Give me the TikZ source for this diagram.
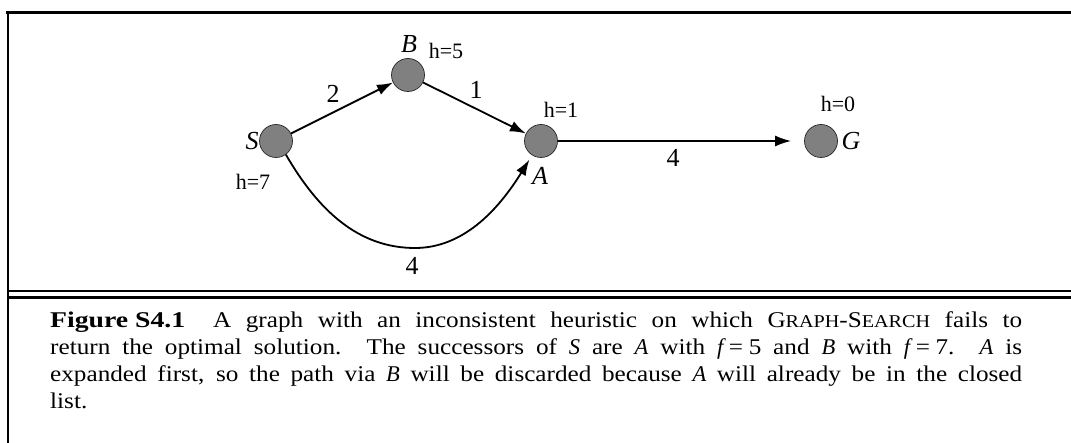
\documentclass[tikz,border=0pt]{standalone}
\usepackage{fontspec}
\setmainfont{Liberation Serif}
\newfontfamily\capfont[FakeStretch=1.12]{Liberation Serif}
\newcommand\mvar[1]{{\rmfamily\itshape #1}}
\usetikzlibrary{arrows.meta}
\begin{document}
\begin{tikzpicture}[x=1pt,y=-1pt,
  state/.style={circle,draw=black!85,line width=0.7pt,fill=black!50,minimum size=33pt,inner sep=0pt},
  lbl/.style={font=\fontsize{26}{30}\selectfont\itshape,inner sep=0pt},
  hl/.style={font=\fontsize{22}{26}\selectfont,inner sep=0pt},
  wt/.style={font=\fontsize{26}{30}\selectfont,inner sep=0pt},
  edgearrow/.style={line width=1.8pt,-{Latex[length=16pt,width=11pt]}},
  framebar/.style={line width=2.6pt}]
\useasboundingbox (0,0) rectangle (1071,443);
% frame
\draw[framebar] (6.3,12.5) -- (1071,12.5);
\draw[line width=2pt] (7.5,11.2) -- (7.5,443);
\draw[framebar] (7.5,291) -- (1071,291);
\draw[framebar] (7.5,297.5) -- (1071,297.5);
% nodes
\node[state] (S) at (276,141) {};
\node[state] (B) at (408,75) {};
\node[state] (A) at (541,141) {};
\node[state] (G) at (821,141) {};
% node labels
\node[lbl] (lS) at (252,141) {S};
\node[lbl] (lB) at (409,44) {B};
\node[lbl] (lA) at (540,176) {A};
\node[lbl] (lG) at (851,141) {G};
\node[hl] (hS) at (253,182) {h=7};
\node[hl] (hB) at (446,51) {h=5};
\node[hl] (hA) at (561,110) {h=1};
\node[hl] (hG) at (838,104) {h=0};
% edges
\draw[edgearrow] (S) -- (B);
\draw[edgearrow] (B) -- (A);
\draw[edgearrow,shorten >=13pt] (A) -- (G);
\draw[edgearrow,shorten >=5pt] (S.-54) .. controls (318,210) and (358,248) .. (415,248)
   .. controls (462,248) and (497,212) .. (A.238);
% edge weights
\node[wt] (w1) at (333,94) {2};
\node[wt] (w2) at (476,90) {1};
\node[wt] (w3) at (673,158) {4};
\node[wt] (w4) at (412,266) {4};
% caption
\node[anchor=north west,inner sep=0pt,text width=972pt,align=justify,
      font=\capfont\fontsize{22.5}{27}\selectfont] (cap) at (50,311)
{\scalebox{1.1}[1]{\textbf{Figure S4.1}}\hspace{28pt}A graph with an inconsistent heuristic on which
G{\fontsize{18}{27}\selectfont RAPH}-S{\fontsize{18}{27}\selectfont EARCH} fails to\linebreak
return the optimal solution. The successors of \mvar{S} are \mvar{A} with
\mvar{f}\hspace{0.25em}=\hspace{0.25em}5 and \mvar{B} with \mvar{f}\hspace{0.25em}=\hspace{0.25em}7. \mvar{A} is\linebreak
expanded first, so the path via \mvar{B} will be discarded because \mvar{A} will already be in the closed\linebreak
list.};
\end{tikzpicture}
\end{document}
